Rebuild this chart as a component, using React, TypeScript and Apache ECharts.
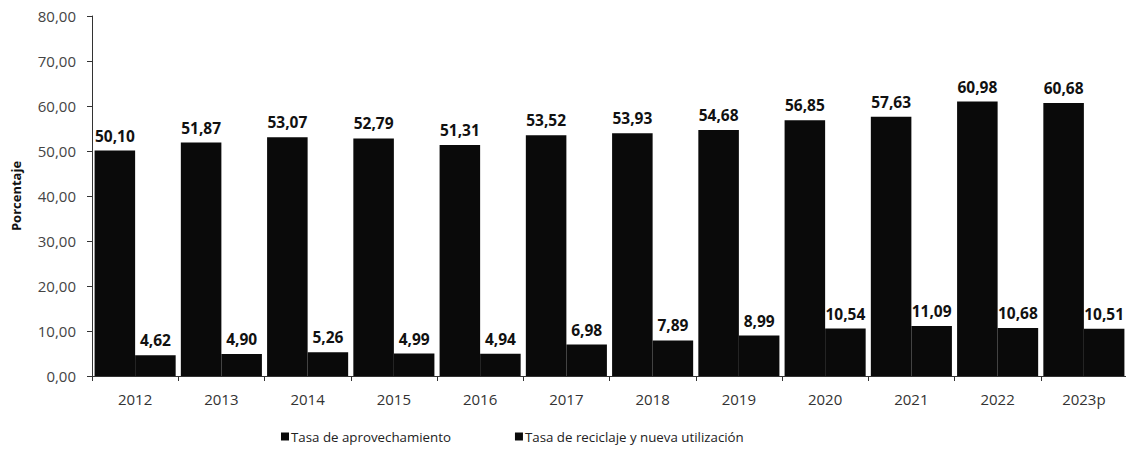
import React, { useEffect, useRef } from "react";
import * as echarts from "echarts";

const categories = ["2012", "2013", "2014", "2015", "2016", "2017", "2018", "2019", "2020", "2021", "2022", "2023p"];
const aprovechamiento = [50.10, 51.87, 53.07, 52.79, 51.31, 53.52, 53.93, 54.68, 56.85, 57.63, 60.98, 60.68];
const reciclaje = [4.62, 4.90, 5.26, 4.99, 4.94, 6.98, 7.89, 8.99, 10.54, 11.09, 10.68, 10.51];
const seriesNames = ["Tasa de aprovechamiento", "Tasa de reciclaje y nueva utilización"];

const fmt = (v: number) => v.toFixed(2).replace(".", ",");
const FONT = "Open Sans";

export default function App() {
  const ref = useRef<HTMLDivElement>(null);
  useEffect(() => {
    const chart = echarts.init(ref.current!, null, { renderer: "svg" });
    const label = {
      show: true,
      position: "top" as const,
      distance: 7,
      fontFamily: FONT,
      fontWeight: "bold" as const,
      fontSize: 15.5,
      color: "#111",
      formatter: (p: any) => fmt(p.value),
    };
    chart.setOption({
      animation: false,
      backgroundColor: "#ffffff",
      textStyle: { fontFamily: FONT },
      grid: { left: 92, right: 7, top: 16, bottom: 77 },
      legend: {
        left: 276,
        top: 425,
        itemGap: 64,
        itemWidth: 8,
        itemHeight: 8,
        icon: "rect",
        textStyle: { fontFamily: FONT, fontSize: 13.3, color: "#222", padding: [0, 0, 0, -3] },
        data: seriesNames,
      },
      xAxis: {
        type: "category",
        data: categories,
        axisLine: { lineStyle: { color: "#333", width: 1 } },
        axisTick: { show: true, length: 5, lineStyle: { color: "#333" } },
        axisLabel: { fontFamily: FONT, fontSize: 15, color: "#333", margin: 15 },
      },
      yAxis: {
        type: "value",
        min: 0,
        max: 80,
        interval: 10,
        name: "Porcentaje",
        nameLocation: "middle",
        nameGap: 70,
        nameTextStyle: { fontFamily: FONT, fontWeight: "bold", fontSize: 13, color: "#111" },
        axisLine: { show: true, lineStyle: { color: "#333", width: 1 } },
        axisTick: { show: true, length: 5, lineStyle: { color: "#333" } },
        splitLine: { show: false },
        axisLabel: { fontFamily: FONT, fontSize: 15, color: "#444", margin: 16, formatter: (v: number) => fmt(v) },
      },
      series: [
        {
          name: seriesNames[0],
          type: "bar",
          data: aprovechamiento,
          itemStyle: { color: "#0a0a0a" },
          barGap: "0%",
          barCategoryGap: "6%",
          label,
        },
        {
          name: seriesNames[1],
          type: "bar",
          data: reciclaje,
          itemStyle: { color: "#0a0a0a" },
          label,
        },
      ],
    });
    return () => chart.dispose();
  }, []);
  return <div ref={ref} style={{ width: 1134, height: 453, margin: -8 }} />;
}
